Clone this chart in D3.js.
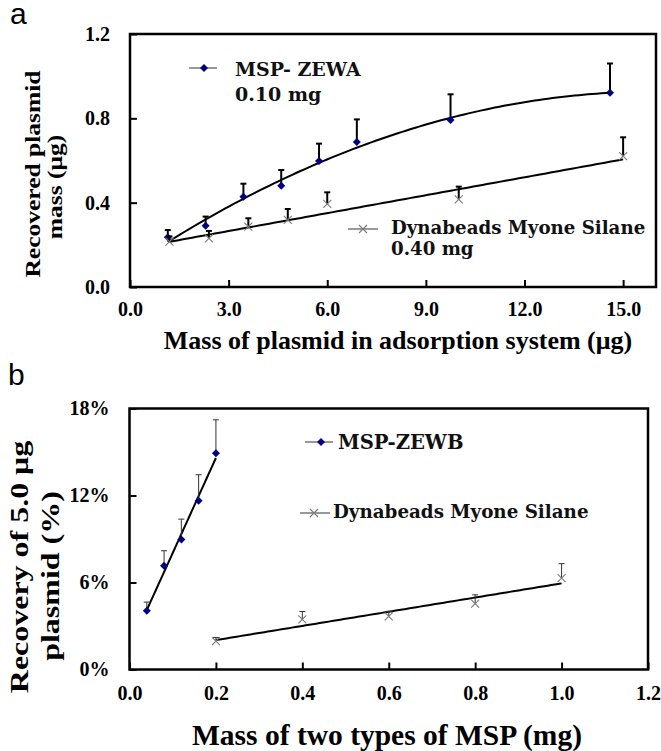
<!DOCTYPE html>
<html>
<head>
<meta charset="utf-8">
<script src="https://cdn.jsdelivr.net/npm/d3@7/dist/d3.min.js"></script>
<style>
  html, body { margin: 0; padding: 0; background: #fff; }
  svg { display: block; }
</style>
</head>
<body>
<svg id="chart" width="661" height="751"></svg>
<script>
// ---------- Panel a data ----------
const aZewaX   = [1.15, 2.3, 3.45, 4.6, 5.75, 6.9, 9.75, 14.6];
const aZewaY   = [0.236, 0.29, 0.428, 0.48, 0.598, 0.688, 0.792, 0.921];
const aZewaErr = [0.034, 0.044, 0.062, 0.075, 0.082, 0.107, 0.122, 0.139];
const aDynaX   = [1.2, 2.4, 3.6, 4.8, 6.0, 10.0, 15.0];
const aDynaY   = [0.215, 0.231, 0.286, 0.318, 0.394, 0.416, 0.621];
const aDynaErr = [0.025, 0.035, 0.04, 0.052, 0.055, 0.06, 0.089];
const aXTicks  = [0, 3, 6, 9, 12, 15];
const aYTicks  = [0, 0.4, 0.8, 1.2];

// ---------- Panel b data ----------
const bZewbX   = [0.04, 0.08, 0.12, 0.16, 0.20];
const bZewbY   = [4.05, 7.15, 8.97, 11.63, 14.92];
const bZewbErr = [0.6, 1.04, 1.4, 1.8, 2.3];
const bDynaX   = [0.2, 0.4, 0.6, 0.8, 1.0];
const bDynaY   = [1.96, 3.45, 3.66, 4.55, 6.3];
const bDynaErr = [0.25, 0.55, 0.35, 0.6, 1.0];
const bXTicks  = [0, 0.2, 0.4, 0.6, 0.8, 1.0, 1.2];
const bYTicks  = [0, 6, 12, 18];

// ---------- helpers ----------
function polyfit(xs, ys, order) {
  const n = order + 1;
  const A = Array.from({length: n}, () => new Array(n + 1).fill(0));
  for (let r = 0; r < n; r++) {
    for (let c = 0; c < n; c++) A[r][c] = d3.sum(xs, x => Math.pow(x, r + c));
    A[r][n] = d3.sum(xs.map((x, i) => ys[i] * Math.pow(x, r)));
  }
  for (let i = 0; i < n; i++) {
    let p = i;
    for (let k = i + 1; k < n; k++) if (Math.abs(A[k][i]) > Math.abs(A[p][i])) p = k;
    [A[i], A[p]] = [A[p], A[i]];
    for (let k = i + 1; k < n; k++) {
      const f = A[k][i] / A[i][i];
      for (let c = i; c <= n; c++) A[k][c] -= f * A[i][c];
    }
  }
  const coef = new Array(n).fill(0);
  for (let i = n - 1; i >= 0; i--) {
    let s = A[i][n];
    for (let c = i + 1; c < n; c++) s -= A[i][c] * coef[c];
    coef[i] = s / A[i][i];
  }
  return x => coef.reduce((acc, c, i) => acc + c * Math.pow(x, i), 0);
}

const svg = d3.select("#chart");
const SERIF = "'Liberation Serif', 'Times New Roman', serif";
const LEG = "'DejaVu Serif', Georgia, serif";
const NAVY = "#000080";
const GRAY = "#7a7a7a";

const diamondPath = d3.symbol(d3.symbolSquare, 32)();
const xPath = "M-4,-4L4,4M-4,4L4,-4";

function drawPanel(cfg) {
  const g = svg.append("g");
  const x = d3.scaleLinear().domain(cfg.xDomain).range([cfg.left, cfg.right]);
  const y = d3.scaleLinear().domain(cfg.yDomain).range([cfg.bottom, cfg.top]);

  // axes with inside ticks
  const ax = g.append("g").attr("transform", `translate(0,${cfg.bottom})`)
    .call(d3.axisBottom(x).tickValues(cfg.xTicks).tickSizeInner(-7).tickSizeOuter(0)
      .tickPadding(cfg.xPad).tickFormat(cfg.xFmt));
  ax.select(".domain").remove();
  const ay = g.append("g").attr("transform", `translate(${cfg.left},0)`)
    .call(d3.axisLeft(y).tickValues(cfg.yTicks)
      .tickSizeInner(-7).tickSizeOuter(0).tickPadding(cfg.yPad).tickFormat(cfg.yFmt));
  ay.select(".domain").remove();
  [ax, ay].forEach(a => {
    a.selectAll("line").attr("stroke", "#000").attr("stroke-width", 2);
    a.selectAll("text").attr("font-family", SERIF).attr("font-weight", "bold")
      .attr("font-size", cfg.tickFont).attr("fill", "#000");
  });

  // frame
  g.append("rect").attr("x", cfg.left).attr("y", cfg.top)
    .attr("width", cfg.right - cfg.left).attr("height", cfg.bottom - cfg.top)
    .attr("fill", "none").attr("stroke", "#000").attr("stroke-width", 2.5);

  // trendlines
  cfg.series.forEach(s => {
    const f = polyfit(s.x, s.y, s.order);
    const x0 = d3.min(s.x), x1 = d3.max(s.x);
    const pts = d3.range(0, 101).map(i => x0 + (x1 - x0) * i / 100);
    g.append("path").datum(pts)
      .attr("d", d3.line().x(d => x(d)).y(d => y(f(d))))
      .attr("fill", "none").attr("stroke", "#000").attr("stroke-width", cfg.trendW);
  });

  // error bars + markers
  cfg.series.forEach(s => {
    const data = s.x.map((v, i) => ({x: v, y: s.y[i], e: s.err[i]}));
    const eb = g.append("g").attr("stroke", cfg.errColor).attr("stroke-width", cfg.errW);
    eb.selectAll("line.v").data(data).join("line")
      .attr("x1", d => x(d.x)).attr("x2", d => x(d.x))
      .attr("y1", d => y(d.y)).attr("y2", d => y(d.y + d.e));
    eb.selectAll("line.c").data(data).join("line")
      .attr("x1", d => x(d.x) - 3).attr("x2", d => x(d.x) + 3)
      .attr("y1", d => y(d.y + d.e)).attr("y2", d => y(d.y + d.e));
    const m = g.append("g");
    if (s.kind === "diamond") {
      m.selectAll("path").data(data).join("path")
        .attr("d", diamondPath)
        .attr("transform", d => `translate(${x(d.x)},${y(d.y)}) rotate(45)`)
        .attr("fill", NAVY);
    } else {
      m.selectAll("path").data(data).join("path")
        .attr("d", xPath)
        .attr("transform", d => `translate(${x(d.x)},${y(d.y)})`)
        .attr("fill", "none").attr("stroke", GRAY).attr("stroke-width", 1.1);
    }
  });

  // legends
  cfg.legends.forEach(L => {
    g.append("line").attr("x1", L.lx1).attr("x2", L.lx2).attr("y1", L.ly).attr("y2", L.ly)
      .attr("stroke", "#555").attr("stroke-width", 1.2);
    if (L.kind === "diamond") {
      g.append("path").attr("d", diamondPath)
        .attr("transform", `translate(${L.mx},${L.ly}) rotate(45)`).attr("fill", NAVY);
    } else {
      g.append("path").attr("d", xPath)
        .attr("transform", `translate(${L.mx},${L.ly})`)
        .attr("fill", "none").attr("stroke", GRAY).attr("stroke-width", 1.1);
    }
    L.lines.forEach((t, i) => {
      g.append("text").attr("x", L.tx).attr("y", L.ty + i * L.lh).text(t)
        .attr("font-family", LEG).attr("font-weight", "bold").attr("font-size", L.fs)
        .attr("fill", "#111");
    });
  });

  // axis titles
  g.append("text").attr("x", cfg.xTitleX).attr("y", cfg.xTitleY)
    .attr("text-anchor", "middle").text(cfg.xTitle)
    .attr("font-family", SERIF).attr("font-weight", "bold").attr("font-size", cfg.xTitleFont);
  cfg.yTitle.forEach((t, i) => {
    g.append("text")
      .attr("transform", `translate(${cfg.yTitleX[i]},${cfg.yTitleC[i]}) rotate(-90) scale(${cfg.yTitleStretch},1)`)
      .attr("text-anchor", "middle").text(t)
      .attr("font-family", SERIF).attr("font-weight", "bold").attr("font-size", cfg.yTitleFont);
  });
  g.append("text").attr("x", cfg.tagX).attr("y", cfg.tagY).text(cfg.tag)
    .attr("font-family", "'Liberation Sans', Arial, sans-serif").attr("font-size", 30);
}

drawPanel({
  xDomain: [0, 16], yDomain: [0, 1.2],
  left: 130, right: 656, top: 34, bottom: 287,
  xTicks: aXTicks, yTicks: aYTicks,
  xFmt: d3.format(".1f"), yFmt: d3.format(".1f"),
  xPad: 15, yPad: 20, tickFont: 20,
  trendW: 2, errW: 2, errColor: "#000",
  series: [
    {x: aZewaX, y: aZewaY, err: aZewaErr, order: 2, kind: "diamond"},
    {x: aDynaX, y: aDynaY, err: aDynaErr, order: 1, kind: "x"}
  ],
  legends: [
    {kind: "diamond", lx1: 189, lx2: 217, ly: 68, mx: 204, tx: 235, ty: 76, lh: 25, fs: 19,
     lines: ["MSP- ZEWA", "0.10 mg"]},
    {kind: "x", lx1: 348, lx2: 378, ly: 229, mx: 363, tx: 391, ty: 234, lh: 21, fs: 18.2,
     lines: ["Dynabeads Myone Silane", "0.40 mg"]}
  ],
  xTitle: "Mass of plasmid in adsorption system (μg)", xTitleX: 398, xTitleY: 349, xTitleFont: 26,
  yTitle: ["Recovered plasmid", "mass (μg)"], yTitleX: [40, 62], yTitleC: [174, 187],
  yTitleFont: 22, yTitleStretch: 1.16,
  tag: "a", tagX: 10, tagY: 24
});

drawPanel({
  xDomain: [0, 1.2], yDomain: [0, 18],
  left: 129.5, right: 648, top: 408.5, bottom: 669.5,
  xTicks: bXTicks, yTicks: bYTicks,
  xFmt: d3.format(".1f"), yFmt: d => d + "%",
  xPad: 16, yPad: 20, tickFont: 20,
  trendW: 2, errW: 1, errColor: "#333",
  series: [
    {x: bZewbX, y: bZewbY, err: bZewbErr, order: 1, kind: "diamond"},
    {x: bDynaX, y: bDynaY, err: bDynaErr, order: 1, kind: "x"}
  ],
  legends: [
    {kind: "diamond", lx1: 305, lx2: 333, ly: 442, mx: 321, tx: 338, ty: 449, lh: 0, fs: 19.6,
     lines: ["MSP-ZEWB"]},
    {kind: "x", lx1: 300, lx2: 330, ly: 513, mx: 314, tx: 333, ty: 518, lh: 0, fs: 18.3,
     lines: ["Dynabeads Myone Silane"]}
  ],
  xTitle: "Mass of two types of MSP (mg)", xTitleX: 387, xTitleY: 745, xTitleFont: 29.5,
  yTitle: ["Recovery of 5.0 μg", "plasmid (%)"], yTitleX: [28, 59], yTitleC: [567, 576],
  yTitleFont: 26, yTitleStretch: 1.23,
  tag: "b", tagX: 8, tagY: 385
});
</script>
</body>
</html>
